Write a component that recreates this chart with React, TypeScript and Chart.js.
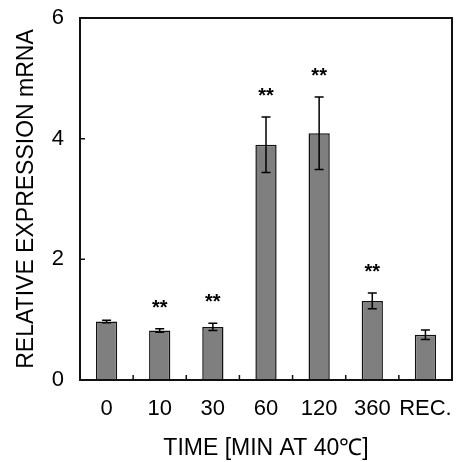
import React, { useEffect, useRef } from "react";
import { Chart, registerables } from "chart.js";

Chart.register(...registerables);

const categories = ["0", "10", "30", "60", "120", "360", "REC."];
const values = [0.97, 0.82, 0.88, 3.9, 4.09, 1.31, 0.75];
const errors = [0.02, 0.03, 0.06, 0.46, 0.6, 0.13, 0.08];
const marks = ["", "**", "**", "**", "**", "**", ""];
const yTicks = [0, 2, 4, 6];
const yTitle = "RELATIVE EXPRESSION mRNA";
const xTitle = "TIME [MIN AT 40\u2103]";

const FONT = "'Liberation Sans', Arial, Helvetica, sans-serif";

const decorPlugin = {
  id: "decor",
  afterDatasetsDraw(chart: any) {
    const ctx = chart.ctx;
    const area = chart.chartArea;
    const xs = chart.scales.x;
    const ys = chart.scales.y;
    ctx.save();
    ctx.strokeStyle = "#000";
    ctx.lineWidth = 1.5;
    values.forEach((v, i) => {
      const e = errors[i];
      const x = xs.getPixelForValue(i);
      const yTop = ys.getPixelForValue(v + e);
      const yBot = ys.getPixelForValue(v - e);
      const cap = 4.5;
      ctx.beginPath();
      ctx.moveTo(x, yTop);
      ctx.lineTo(x, yBot);
      ctx.moveTo(x - cap, yTop);
      ctx.lineTo(x + cap, yTop);
      ctx.moveTo(x - cap, yBot);
      ctx.lineTo(x + cap, yBot);
      ctx.stroke();
      if (marks[i]) {
        ctx.fillStyle = "#000";
        ctx.font = "bold 20px " + FONT;
        ctx.textAlign = "center";
        ctx.textBaseline = "alphabetic";
        ctx.fillText(marks[i], x, yTop - 15);
      }
    });
    ctx.lineWidth = 2;
    ctx.strokeStyle = "#111";
    ctx.strokeRect(area.left, area.top, area.right - area.left, area.bottom - area.top);
    ctx.lineWidth = 1.5;
    ctx.beginPath();
    yTicks.forEach((t) => {
      const y = ys.getPixelForValue(t);
      ctx.moveTo(area.left, y);
      ctx.lineTo(area.left + 5, y);
    });
    for (let i = 0; i < categories.length - 1; i++) {
      const x = (xs.getPixelForValue(i) + xs.getPixelForValue(i + 1)) / 2;
      ctx.moveTo(x, area.bottom);
      ctx.lineTo(x, area.bottom - 5);
    }
    ctx.stroke();
    ctx.restore();
  },
};

export default function App() {
  const ref = useRef<HTMLCanvasElement>(null);
  useEffect(() => {
    document.body.style.margin = "0";
    const chart = new Chart(ref.current as HTMLCanvasElement, {
      type: "bar",
      data: {
        labels: categories,
        datasets: [
          {
            data: values,
            backgroundColor: "#7f7f7f",
            borderColor: "#111",
            borderWidth: 1.5,
            categoryPercentage: 1,
            barPercentage: 0.4,
          },
        ],
      },
      options: {
        responsive: false,
        animation: false,
        layout: { padding: { top: 18, right: 5, left: 0, bottom: 0 } },
        plugins: { legend: { display: false }, tooltip: { enabled: false } },
        scales: {
          x: {
            grid: { display: false, drawTicks: false },
            border: { display: false },
            ticks: {
              color: "#000",
              font: { family: FONT, size: 22 },
              padding: 16,
              maxRotation: 0,
              autoSkip: false,
            },
            title: {
              display: true,
              text: xTitle,
              color: "#000",
              font: { family: FONT, size: 23 },
              padding: { top: 0, bottom: 0 },
            },
            afterFit: (s: any) => {
              s.height = 82;
              s.paddingLeft = 0;
              s.paddingRight = 0;
            },
          },
          y: {
            min: 0,
            max: 6,
            grid: { display: false, drawTicks: false },
            border: { display: false },
            ticks: {
              stepSize: 2,
              color: "#000",
              font: { family: FONT, size: 22 },
              padding: 16,
              callback: (v: any) => (yTicks.includes(v) ? String(v) : ""),
            },
            title: {
              display: true,
              text: yTitle,
              color: "#000",
              font: { family: FONT, size: 23 },
              padding: { top: 13, bottom: 0 },
            },
            afterFit: (s: any) => {
              s.width = 80;
              s.paddingTop = 0;
              s.paddingBottom = 0;
            },
          },
        },
      },
      plugins: [decorPlugin],
    });
    return () => chart.destroy();
  }, []);
  return (
    <div style={{ position: "fixed", left: 0, top: 0, width: 457, height: 462, background: "#fff" }}>
      <canvas ref={ref} width={457} height={462} />
    </div>
  );
}
